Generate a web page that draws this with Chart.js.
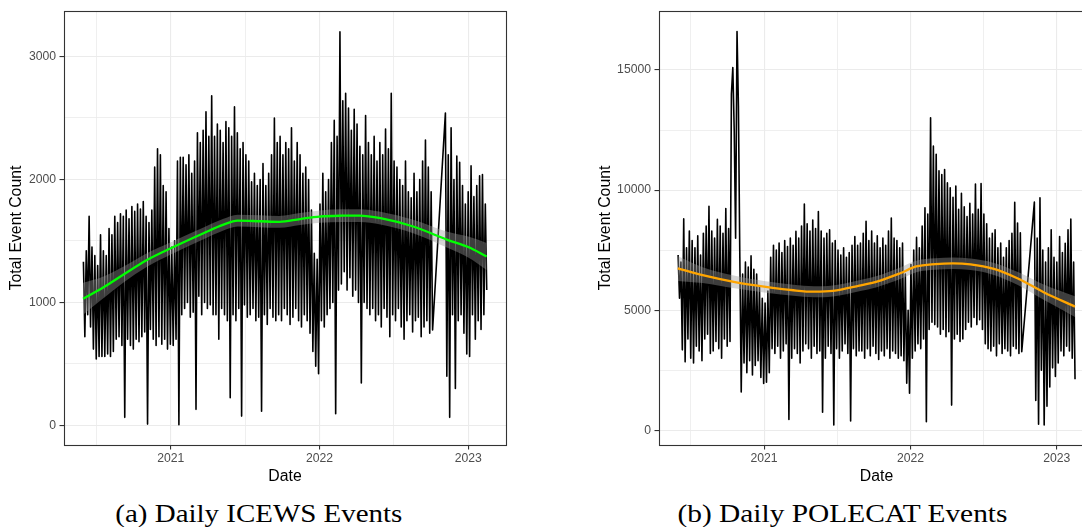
<!DOCTYPE html>
<html><head><meta charset="utf-8">
<script src="https://cdn.jsdelivr.net/npm/chart.js@4.4.1/dist/chart.umd.min.js"></script>
<style>
html,body{margin:0;padding:0;background:#fff;overflow:hidden;width:1082px;height:527px;}
#wrap{position:relative;width:1082px;height:527px;overflow:hidden;background:#fff;}
canvas{position:absolute;top:0;}
#c1{left:0;}
#c2{left:580px;}
.cap{position:absolute;top:499px;font-family:"Liberation Serif","DejaVu Serif",serif;font-size:25.2px;line-height:30px;white-space:nowrap;color:#000;transform-origin:center center;}
</style></head>
<body><div id="wrap">
<canvas id="c1" width="540" height="495"></canvas>
<canvas id="c2" width="560" height="495"></canvas>
<div class="cap" id="cap1">(a) Daily ICEWS Events</div>
<div class="cap" id="cap2">(b) Daily POLECAT Events</div>
</div>
<script>
// ---------- data ----------
// daily series summarised per week: weekday peak (hi) and weekend trough (lo); weeks start 2020-05-31
const weekStartYear = 2020.4126;
const weekLength = 7 / 365.25;

const icewsHi = [
 1330,1420,1700,1450,1380,1300,1550,
 1420,1380,1600,1550,1700,1650,1720,
 1700,1750,1680,1780,1740,1800,1760,1820,1700,
 1650,1750,2100,2250,2200,1950,1900,1600,1450,1500,2150,2180,
 2180,2120,2200,2050,2150,2380,2300,2400,2550,2350,2680,
 2350,2450,2400,2300,2470,2420,2350,2590,2380,2250,2300,2200,2150,1980,2050,1950,2000,2130,1950,2050,2200,2500,2300,
 2350,2200,2300,2250,2420,2150,2300,2200,2050,2100,2000,1750,1400,1350,
 1800,2050,1900,2000,2300,2480,2350,3200,2640,2700,2580,2400,2570,2450,2270,2200,2520,2300,
 2200,2350,2150,2300,2200,2410,2250,2700,2150,2100,2000,1950,2150,1900,1850,2050,1900,2000,2150,2320,2100,1900,
 null,null,null,null,
 2540,2200,2420,2000,2190,2140,1950,1800,1900,2110,1860,1950,2030,2040,1800
];
const icewsLo = [
 720,900,800,620,540,560,560,
 560,580,560,600,700,720,650,
 65,700,650,620,700,680,720,760,10,
 780,700,650,720,660,700,620,660,650,700,5,900,
 950,1000,880,920,130,1050,900,1000,950,980,900,
 900,700,950,900,850,225,900,850,950,75,980,880,900,950,850,880,115,900,820,950,880,850,900,
 850,950,900,820,880,950,850,800,900,850,750,600,480,420,
 850,800,900,950,1000,95,1100,1150,1250,1100,1200,1050,1100,1000,345,1000,950,900,
 950,850,900,800,950,880,720,900,850,950,800,700,850,900,760,850,880,720,800,850,750,775,
 null,null,null,null,
 400,65,900,300,850,900,750,580,560,900,700,850,780,900,1100
];
const polecatHi = [
 7300,7000,8800,7600,8300,7900,7600,8100,7300,8200,8500,9330,8300,8000,8780,8500,8200,9230,8400,
 14000,12500,16600,7200,
 6500,7000,6800,7260,6700,6500,6000,5500,5300,
 5800,7200,7700,7500,7800,7400,7900,7650,8000,7700,8280,8000,8500,9420,8600,8300,8750,8400,9110,8300,8000,8200,8350,7800,7900,7500,7300,7600,7200,7400,7700,8070,7700,
 7800,8200,8700,7900,8300,7800,8100,7600,8000,7700,8300,8840,8000,7900,7600,7800,6500,5000,
 6900,7500,8030,7600,8500,9260,9000,13010,11830,11490,10800,10650,10860,10300,10100,9700,10170,9200,
 9870,9300,8900,9450,9000,10250,9200,10270,9000,8600,8000,8200,8350,7600,7800,7200,7600,7900,8200,9490,8630,8220,
 null,null,null,null,
 9500,8000,9680,7500,7000,7600,8350,7200,7000,8070,7400,7790,8350,8790,7000
];
const polecatLo = [
 5500,3350,2850,3800,3000,2800,3500,3300,2900,3800,4000,3200,3300,3700,3400,3000,3800,3500,3700,
 15100,8000,13500,1600,
 2800,2400,2900,2300,2700,2900,2200,1950,2000,
 2400,3400,3200,3500,3000,3300,3600,450,3000,3400,3200,2800,3300,3600,3400,3000,3500,3200,3300,750,3000,3500,3200,220,3400,3000,3300,3600,3200,390,3400,3100,3300,
 3300,3000,3400,3100,3500,3200,2950,3300,3100,3400,3000,3300,3200,3000,3100,2900,1960,1540,
 3000,3300,3600,3400,3800,360,4200,4500,4400,4300,4000,4200,3900,4100,1050,3800,4000,3700,
 3800,4200,4500,4300,4700,4400,4600,4200,3600,3400,3300,3500,3100,3600,3200,3400,3300,3100,3500,3400,3200,3270,
 null,null,null,null,
 1240,250,2500,220,1000,1800,2600,2240,2800,3300,3100,3500,3300,3000,2130
];

// loess fits (value and confidence band)
const icewsSmoothX = [2020.41,2020.54,2020.68,2020.84,2021.0,2021.22,2021.35,2021.45,2021.6,2021.73,2021.87,2022.0,2022.15,2022.27,2022.41,2022.63,2022.86,2023.0,2023.124];
const icewsSmooth  = [1030,1117,1225,1345,1440,1562,1630,1665,1660,1655,1678,1698,1705,1706,1685,1617,1509,1450,1373];
const icewsBandLo  = [900,1027,1160,1290,1390,1514,1582,1617,1612,1607,1630,1648,1653,1654,1633,1562,1444,1365,1263];
const icewsBandHi  = [1160,1207,1290,1400,1490,1610,1678,1713,1708,1703,1726,1748,1757,1758,1737,1672,1574,1535,1483];

const polecatSmoothX = [2020.41,2020.58,2020.81,2021.0,2021.2,2021.34,2021.47,2021.65,2021.77,2021.93,2022.04,2022.17,2022.29,2022.41,2022.57,2022.73,2022.91,2023.124];
const polecatSmooth  = [6740,6460,6160,5980,5830,5770,5800,6020,6190,6540,6820,6920,6950,6910,6720,6330,5750,5150];
const polecatBandLo  = [6220,6130,5900,5740,5600,5540,5570,5790,5960,6300,6580,6680,6710,6670,6470,6060,5430,4720];
const polecatBandHi  = [7260,6790,6420,6220,6060,6000,6030,6250,6420,6780,7060,7160,7190,7150,6970,6600,6070,5580];

// axis breaks and labels
const xRange = [2020.282, 2023.254];
const xMajor = [2021, 2022, 2023];
const xMajorLabels = ['2021', '2022', '2023'];
const xMinor = [2020.5, 2021.5, 2022.5];
const icewsYRange = [-160, 3370];
const icewsYMajor = [0, 1000, 2000, 3000];
const icewsYLabels = ['0', '1000', '2000', '3000'];
const icewsYMinor = [500, 1500, 2500];
const polecatYRange = [-612, 17456];
const polecatYMajor = [0, 5000, 10000, 15000];
const polecatYLabels = ['0', '5000', '10000', '15000'];
const polecatYMinor = [2500, 7500, 12500];

// ---------- building ----------
function weeklyPoints(hi, lo) {
  const pts = [];
  for (let i = 0; i < hi.length; i++) {
    pts.push({x: weekStartYear + i * weekLength, y: hi[i]});
    pts.push({x: weekStartYear + (i + 0.5) * weekLength, y: lo[i]});
  }
  return pts;
}
function pairs(xs, ys) { return xs.map((x, i) => ({x: x, y: ys[i]})); }

const SANS = '"Liberation Sans", Arial, sans-serif';
const tickFont = {family: SANS, size: 12.2};
const titleFont = {family: SANS, size: 15.8};

const panelBorder = {
  id: 'panelBorder',
  afterDraw(chart) {
    const {ctx, chartArea: a} = chart;
    ctx.save();
    ctx.strokeStyle = '#333333';
    ctx.lineWidth = 1.1;
    ctx.strokeRect(a.left + 0.5, a.top + 0.5, a.right - a.left, a.bottom - a.top);
    ctx.restore();
  }
};

function makeChart(id, o) {
  const yBreaks = o.yMajor.concat(o.yMinor).sort((a, b) => a - b);
  const xBreaks = xMajor.concat(xMinor).sort((a, b) => a - b);
  return new Chart(document.getElementById(id), {
    type: 'line',
    data: {
      datasets: [
        {data: pairs(o.sx, o.sy), borderColor: o.color, borderWidth: 2.3, pointRadius: 0, fill: false,
         cubicInterpolationMode: 'monotone', order: 0},
        {data: pairs(o.sx, o.bandHi), borderColor: 'rgba(0,0,0,0)', borderWidth: 0, pointRadius: 0, fill: false,
         cubicInterpolationMode: 'monotone', order: 1},
        {data: pairs(o.sx, o.bandLo), borderColor: 'rgba(0,0,0,0)', borderWidth: 0, pointRadius: 0, fill: '-1',
         backgroundColor: 'rgba(153,153,153,0.4)', cubicInterpolationMode: 'monotone', order: 1},
        {data: weeklyPoints(o.hi, o.lo), borderColor: '#000000', borderWidth: 1.6, pointRadius: 0, fill: false,
         spanGaps: true, tension: 0, borderJoinStyle: 'round', order: 2}
      ]
    },
    options: {
      animation: false, responsive: false, devicePixelRatio: 1, events: [],
      layout: {padding: {left: 0, top: 11, right: o.rightPad, bottom: 0}},
      plugins: {legend: {display: false}, tooltip: {enabled: false}},
      scales: {
        x: {
          type: 'linear', min: xRange[0], max: xRange[1],
          afterBuildTicks: s => { s.ticks = xBreaks.map(v => ({value: v})); },
          afterFit: s => { s.height = 50; },
          ticks: {autoSkip: false, maxRotation: 0, minRotation: 0, font: tickFont, color: '#4D4D4D', padding: 2,
                  callback: v => { const k = xMajor.indexOf(v); return k >= 0 ? xMajorLabels[k] : ''; }},
          grid: {color: '#EBEBEB', lineWidth: c => xMajor.includes(c.tick.value) ? 1.1 : 0.8,
                 tickLength: 4.5, tickWidth: 1.1,
                 tickColor: c => xMajor.includes(c.tick.value) ? '#333333' : 'rgba(0,0,0,0)'},
          border: {display: false},
          title: {display: true, text: 'Date', font: titleFont, color: '#000000', padding: {top: 0, bottom: 9.1}}
        },
        y: {
          type: 'linear', min: o.yRange[0], max: o.yRange[1],
          afterBuildTicks: s => { s.ticks = yBreaks.map(v => ({value: v})); },
          afterFit: s => { s.width = o.yWidth; },
          ticks: {autoSkip: false, font: tickFont, color: '#4D4D4D', padding: 3.5,
                  callback: v => { const k = o.yMajor.indexOf(v); return k >= 0 ? o.yLabels[k] : ''; }},
          grid: {color: '#EBEBEB', lineWidth: c => o.yMajor.includes(c.tick.value) ? 1.1 : 0.8,
                 tickLength: 4.5, tickWidth: 1.1,
                 tickColor: c => o.yMajor.includes(c.tick.value) ? '#333333' : 'rgba(0,0,0,0)'},
          border: {display: false},
          title: {display: true, text: 'Total Event Count', font: titleFont, color: '#000000',
                  padding: {top: o.yTitlePad, bottom: 0}}
        }
      }
    },
    plugins: [panelBorder]
  });
}

makeChart('c1', {
  hi: icewsHi, lo: icewsLo, sx: icewsSmoothX, sy: icewsSmooth, bandLo: icewsBandLo, bandHi: icewsBandHi,
  color: '#00FF00', yRange: icewsYRange, yMajor: icewsYMajor, yLabels: icewsYLabels, yMinor: icewsYMinor,
  yWidth: 64, rightPad: 34, yTitlePad: 7.2
});
makeChart('c2', {
  hi: polecatHi, lo: polecatLo, sx: polecatSmoothX, sy: polecatSmooth, bandLo: polecatBandLo, bandHi: polecatBandHi,
  color: '#FFA500', yRange: polecatYRange, yMajor: polecatYMajor, yLabels: polecatYLabels, yMinor: polecatYMinor,
  yWidth: 79, rightPad: 46, yTitlePad: 15.8
});

// captions: centre and fit to the reference widths
function placeCaption(id, centre, width) {
  const el = document.getElementById(id);
  const w = el.getBoundingClientRect().width;
  el.style.left = (centre - w / 2) + 'px';
  el.style.transform = 'scaleX(' + (width / w) + ')';
}
placeCaption('cap1', 258.5, 287);
placeCaption('cap2', 842, 330);
</script>
</body></html>
